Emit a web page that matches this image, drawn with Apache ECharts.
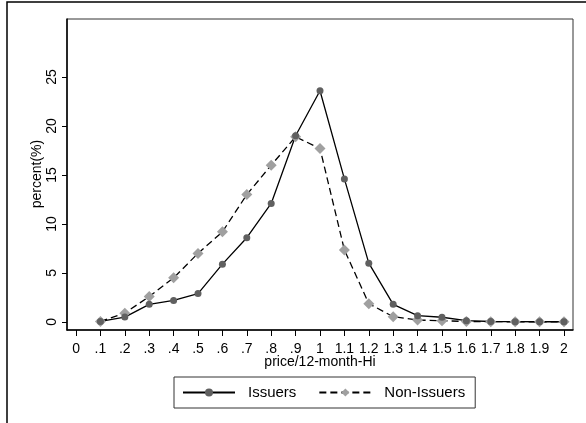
<!DOCTYPE html>
<html>
<head>
<meta charset="utf-8">
<script src="https://cdn.jsdelivr.net/npm/echarts@6/dist/echarts.min.js"></script>
<style>
  html, body { margin: 0; padding: 0; background: #fff; }
  #chart { width: 586px; height: 423px; }
</style>
</head>
<body>
<div id="chart"></div>
<script>
// price/12-month-Hi 分组
var xValues = [0.1, 0.2, 0.3, 0.4, 0.5, 0.6, 0.7, 0.8, 0.9, 1.0, 1.1, 1.2, 1.3, 1.4, 1.5, 1.6, 1.7, 1.8, 1.9, 2.0];
var issuers = [0.05, 0.5, 1.8, 2.2, 2.9, 5.9, 8.6, 12.1, 19.0, 23.6, 14.6, 6.0, 1.8, 0.64, 0.48, 0.13, 0.05, 0.03, 0.02, 0.02];
var nonIssuers = [0.05, 0.9, 2.6, 4.5, 7.0, 9.2, 13.0, 16.0, 18.9, 17.7, 7.35, 1.87, 0.54, 0.2, 0.13, 0.05, 0.03, 0.02, 0.02, 0.02];
// 刻度
var xTicks = [0, 0.1, 0.2, 0.3, 0.4, 0.5, 0.6, 0.7, 0.8, 0.9, 1.0, 1.1, 1.2, 1.3, 1.4, 1.5, 1.6, 1.7, 1.8, 1.9, 2.0];
var xTickLabels = ['0', '.1', '.2', '.3', '.4', '.5', '.6', '.7', '.8', '.9', '1', '1.1', '1.2', '1.3', '1.4', '1.5', '1.6', '1.7', '1.8', '1.9', '2'];
var yTicks = [0, 5, 10, 15, 20, 25];
var xName = 'price/12-month-Hi';
var yName = 'percent(%)';

function pairs(ys) {
  var out = [];
  for (var i = 0; i < xValues.length; i++) {
    out.push([xValues[i], ys[i]]);
  }
  return out;
}

var chart = echarts.init(document.getElementById('chart'));
var font = 'Arial, "Liberation Sans", sans-serif';

var option = {
  animation: false,
  textStyle: { fontFamily: font },
  graphic: [
    {
      type: 'rect',
      shape: { x: 7, y: 2, width: 600, height: 440 },
      style: { fill: 'none', stroke: '#000', lineWidth: 1.5 },
      silent: true
    },
    // 轴标题 (用 graphic 放在固定位置)
    {
      type: 'text',
      x: 320, y: 362,
      style: { text: xName, font: '14px ' + font, fill: '#000', align: 'center', verticalAlign: 'middle' },
      silent: true
    },
    {
      type: 'text',
      x: 37, y: 174,
      rotation: Math.PI / 2,
      style: { text: yName, font: '14px ' + font, fill: '#000', align: 'center', verticalAlign: 'middle' },
      silent: true
    }
  ],
  grid: {
    left: 67, right: 13, top: 19, bottom: 93,
    show: true,
    borderColor: '#333',
    borderWidth: 1
  },
  legend: {
    left: 174, top: 377,
    padding: [8, 10, 8, 8],
    borderColor: '#333',
    borderWidth: 1,
    itemWidth: 52,
    itemHeight: 10,
    itemGap: 22,
    textStyle: { fontSize: 15, color: '#000', fontFamily: font, padding: [0, 0, 0, 8] },
    data: ['Issuers', 'Non-Issuers']
  },
  xAxis: {
    type: 'value',
    min: -0.037,
    max: 2.037,
    splitLine: { show: false },
    axisLine: { show: true, onZero: false, lineStyle: { color: '#000', width: 1.5 } },
    axisTick: { show: true, length: 6, customValues: xTicks, lineStyle: { color: '#000' } },
    axisLabel: {
      customValues: xTicks,
      fontSize: 14,
      color: '#000',
      margin: 12,
      formatter: function (v) {
        return xTickLabels[Math.round(v * 10)];
      }
    }
  },
  yAxis: {
    type: 'value',
    min: -0.82,
    max: 30.92,
    splitLine: { show: false },
    axisLine: { show: true, onZero: false, lineStyle: { color: '#000', width: 1.5 } },
    axisTick: { show: true, length: 5, customValues: yTicks, lineStyle: { color: '#000' } },
    axisLabel: {
      customValues: yTicks,
      rotate: 90,
      fontSize: 14,
      color: '#000',
      margin: 8
    }
  },
  series: [
    {
      name: 'Non-Issuers',
      type: 'line',
      data: pairs(nonIssuers),
      symbol: 'diamond',
      symbolSize: 11,
      itemStyle: { color: '#a0a0a0' },
      lineStyle: { color: '#000', width: 1.3, type: [7, 4] }
    },
    {
      name: 'Issuers',
      type: 'line',
      data: pairs(issuers),
      symbol: 'circle',
      symbolSize: 7,
      itemStyle: { color: '#606060' },
      lineStyle: { color: '#000', width: 1.3 }
    }
  ]
};
chart.setOption(option);
</script>
</body>
</html>
